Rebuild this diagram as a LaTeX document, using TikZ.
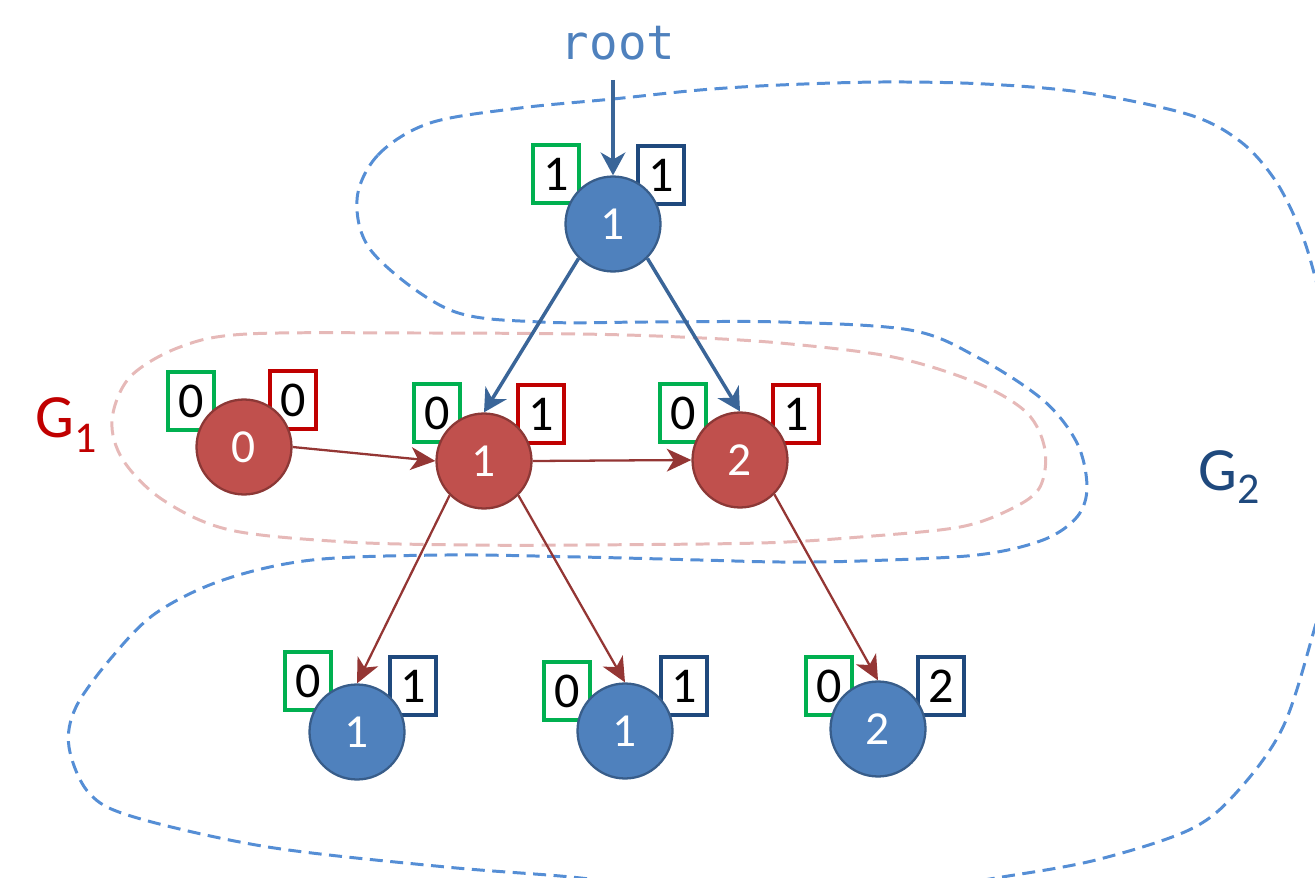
\documentclass[tikz,border=0pt]{standalone}
\usepackage{fontspec}
\setmainfont{Carlito}
\newfontfamily\rootfont{DejaVu Sans Mono}
\usetikzlibrary{arrows.meta}
\definecolor{nodeblue}{HTML}{4F81BD}
\definecolor{nodeblueline}{HTML}{385D8A}
\definecolor{nodered}{HTML}{C0504D}
\definecolor{noderedline}{HTML}{8C3836}
\definecolor{boxgreen}{HTML}{00B050}
\definecolor{boxred}{HTML}{C00000}
\definecolor{boxnavy}{HTML}{1F497D}
\definecolor{arrblue}{HTML}{3A6598}
\definecolor{arrred}{HTML}{943634}
\definecolor{dashblue}{HTML}{558ED5}
\definecolor{dashpink}{HTML}{E6B9B8}
\definecolor{roottext}{HTML}{4F81BD}
\begin{document}
\begin{tikzpicture}[x=0.02cm,y=-0.02cm,
  bnode/.style={circle, draw=nodeblueline, fill=nodeblue, line width=1.3pt,
    minimum size=1.9cm, inner sep=0pt, text=white, font=\fontsize{27}{30}\selectfont},
  rnode/.style={bnode, draw=noderedline, fill=nodered},
  cbox/.style={rectangle, fill=white, line width=2.1pt, minimum width=0.92cm,
    minimum height=1.16cm, inner sep=0pt, text=black, font=\fontsize{28.5}{30}\selectfont},
  gbox/.style={cbox, draw=boxgreen},
  redbox/.style={cbox, draw=boxred},
  navybox/.style={cbox, draw=boxnavy},
  barrow/.style={draw=arrblue, line width=2pt, -{Stealth[length=13pt,width=14pt,inset=4pt]}},
  rarrow/.style={draw=arrred, line width=1.3pt, -{Stealth[length=14pt,width=13pt,inset=4pt]}},
  bluedash/.style={draw=dashblue, line width=1.7pt, dash pattern=on 0.26cm off 0.15cm},
  pinkdash/.style={draw=dashpink, line width=1.7pt, dash pattern=on 0.28cm off 0.16cm},
  glabel/.style={anchor=base west, font=\fontsize{35}{40}\selectfont}
]
\useasboundingbox (0,0) rectangle (1315,878);
\begin{scope}
\clip (0,0) rectangle (1315,878);
\draw[bluedash] plot[smooth cycle, tension=0.55] coordinates {
 (357,200) (378,155) (430,123) (520,108) (613,99) (700,90) (780,85) (882,82)
 (985,84) (1087,93) (1190,115) (1241,142) (1275,180) (1299,227) (1314,273)
 (1332,350) (1342,450) (1335,550) (1315,627) (1283,727) (1236,793) (1189,830)
 (1096,860) (1002,877) (900,892) (780,897) (670,889) (571,877) (446,867)
 (268,847) (134,817) (89,793) (69,747) (76,707) (112,657) (156,613) (223,580)
 (312,560) (446,555) (580,557) (700,560) (780,562) (860,561) (977,555)
 (1043,540) (1077,517) (1087,487) (1077,443) (1043,400) (977,357) (910,330)
 (780,322) (650,322) (540,322) (450,310) (373,253)};
\end{scope}
\draw[pinkdash] plot[smooth cycle, tension=0.55] coordinates {
 (420,333) (247,334) (180,347) (130,377) (112,420) (123,460) (163,500) (230,530)
 (347,542) (470,545) (580,545) (760,543) (860,537) (960,527) (1013,508)
 (1040,487) (1045,450) (1027,413) (977,383) (893,357) (780,343) (680,337) (580,334)};

% boxes
\node[gbox] (rg) at (556,174) {1};
\node[navybox] (rn) at (661,175) {1};
\node[gbox] (c0g) at (191,401) {0};
\node[redbox] (c0r) at (293,400) {0};
\node[gbox] (c1g) at (437,413) {0};
\node[redbox] (c1r) at (541,414) {1};
\node[gbox] (c2g) at (683,413) {0};
\node[redbox] (c2r) at (796,414) {1};
\node[gbox] (b1g) at (308,681) {0};
\node[navybox] (b1n) at (413,686) {1};
\node[gbox] (b2g) at (567,691) {0};
\node[navybox] (b2n) at (684,686) {1};
\node[gbox] (b3g) at (829,686) {0};
\node[navybox] (b3n) at (941,686) {2};

% circles
\node[bnode] (R) at (613,224) {1};
\node[rnode] (C0) at (244,447) {0};
\node[rnode] (C1) at (484,461) {1};
\node[rnode] (C2) at (740,460) {2};
\node[bnode] (B1) at (357,732) {1};
\node[bnode] (B2) at (625,731) {1};
\node[bnode] (B3) at (878,729) {2};

% labels
\node[anchor=base, text=roottext, font=\rootfont\fontsize{27}{30}\selectfont] (rootlbl) at (618,60) {root};
\coordinate (rtop) at (613,80);
\node[glabel, text=boxred] (g1) at (29,438) {G\raisebox{-8.5pt}{\fontsize{25}{26}\selectfont 1}};
\node[glabel, text=boxnavy] (g2) at (1192,490) {G\raisebox{-7.5pt}{\fontsize{25}{26}\selectfont 2}};

% arrows
\draw[barrow] (rtop) -- (R);
\draw[barrow] (R.225) -- (C1.north);
\draw[barrow] (R.315) -- (C2.north);
\draw[rarrow] (C0.east) -- (C1.west);
\draw[rarrow] (C1.east) -- (C2.west);
\draw[rarrow] (C1.225) -- (B1.north);
\draw[rarrow] (C1.315) -- (B2.north);
\draw[rarrow] (C2.315) -- (B3.north);
\end{tikzpicture}
\end{document}
